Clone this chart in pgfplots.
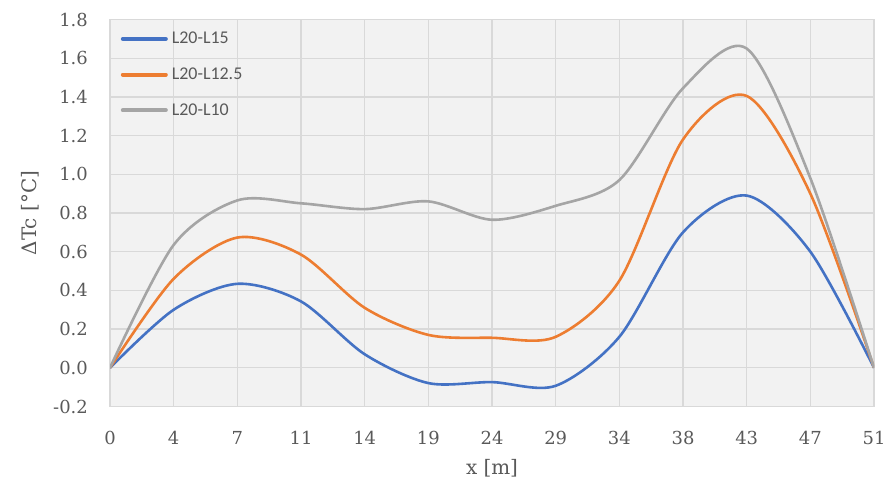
\documentclass[border=0pt]{standalone}
\usepackage{fontspec}
\setmainfont{DejaVu Serif}
\newfontfamily\legfont{Carlito}
\usepackage{pgfplots}
\pgfplotsset{compat=1.18}
\definecolor{cblue}{HTML}{4472C4}
\definecolor{corange}{HTML}{ED7D31}
\definecolor{cgray}{HTML}{A5A5A5}
\definecolor{gridc}{HTML}{D9D9D9}
\definecolor{bgc}{HTML}{F2F2F2}
\definecolor{txt}{HTML}{595959}
\begin{document}
\begin{tikzpicture}[x=1bp,y=1bp]
\useasboundingbox (0,0) rectangle (889,486);
\begin{axis}[
  at={(110bp,79.5bp)}, anchor=south west,
  scale only axis, width=764bp, height=387bp,
  xmin=0, xmax=12, ymin=-0.2, ymax=1.8,
  xtick={0,1,...,12},
  xticklabels={0,4,7,11,14,19,24,29,34,38,43,47,51},
  ytick={-0.2,0,0.2,0.4,0.6,0.8,1.0,1.2,1.4,1.6,1.8},
  yticklabels={-0.2,0.0,0.2,0.4,0.6,0.8,1.0,1.2,1.4,1.6,1.8},
  major tick length=0pt,
  grid=major,
  grid style={draw=gridc, line width=1.3bp},
  axis line style={draw=gridc, line width=1.3bp},
  axis background/.style={fill=bgc},
  tick label style={font=\fontsize{18}{22}\selectfont, text=txt, inner sep=0pt},
  xticklabel style={anchor=center, yshift=-31bp},
  yticklabel style={anchor=east, xshift=-22bp},
  xlabel={x [m]},
  ylabel={ΔTc [°C]},
  label style={font=\fontsize{20}{24}\selectfont, text=txt},
  xlabel style={at={(axis description cs:0.5,-0.160)}, anchor=center},
  ylabel style={at={(axis description cs:-0.1047,0.5)}, anchor=center, rotate=0},
  legend style={at={(axis description cs:0.010,0.975)}, anchor=north west,
    draw=none, fill=none, font=\legfont\fontsize{18}{21}\selectfont, text=txt,
    row sep=20.5bp, column sep=3bp,
    nodes={inner sep=1bp}},
  legend cell align=left,
  legend image code/.code={\draw[#1, line width=4bp, line cap=round] (0bp,0bp) -- (43bp,0bp);},
  every axis plot/.append style={line width=2.6bp, smooth, tension=0.5, line join=round},
]
\addplot[cblue] coordinates {(0,0) (1,0.30) (2,0.434) (3,0.343) (4,0.07) (5,-0.079) (6,-0.074) (7,-0.093) (8,0.16) (9,0.70) (10,0.89) (11,0.60) (12,0)};
\addlegendentry{L20-L15}
\addplot[corange] coordinates {(0,0) (1,0.46) (2,0.673) (3,0.585) (4,0.31) (5,0.17) (6,0.155) (7,0.16) (8,0.45) (9,1.18) (10,1.405) (11,0.90) (12,0)};
\addlegendentry{L20-L12.5}
\addplot[cgray] coordinates {(0,0) (1,0.635) (2,0.865) (3,0.85) (4,0.82) (5,0.86) (6,0.765) (7,0.837) (8,0.97) (9,1.445) (10,1.65) (11,0.98) (12,0)};
\addlegendentry{L20-L10}
\end{axis}
\end{tikzpicture}
\end{document}
